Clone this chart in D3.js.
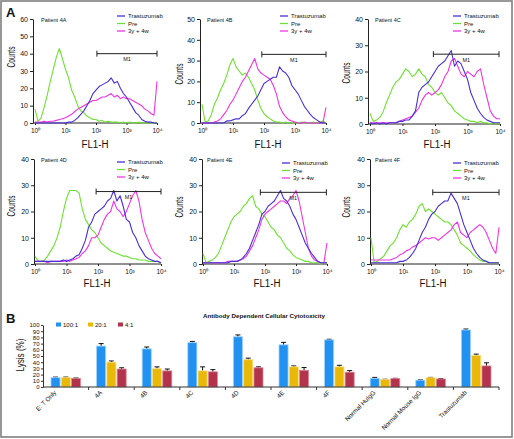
<!DOCTYPE html>
<html><head><meta charset="utf-8">
<script src="https://cdn.jsdelivr.net/npm/d3@7/dist/d3.min.js"></script>
<style>
body{margin:0;background:#fff}
svg{display:block}
text{font-family:"Liberation Sans",Arial,sans-serif;fill:#111}
</style>
</head><body>
<svg id="c" width="514" height="439"></svg>
<script>
// ---------- DATA: flow cytometry histograms (x = log10 FL1-H channel) ----------
const logChannels = [0,0.1,0.2,0.3,0.4,0.5,0.6,0.7,0.8,0.9,1.0,1.1,1.2,1.3,1.4,1.5,1.6,1.7,1.8,1.9,2.0,2.1,2.2,2.3,2.4,2.5,2.6,2.7,2.8,2.9,3.0,3.1,3.2,3.3,3.4,3.5,3.6,3.7,3.8,3.9,4.0];
const decadeLabels = ["10\u2070","10\u00B9","10\u00B2","10\u00B3","10\u2074"];
const seriesNames = ["Trastuzumab","Pre","3y + 4w"];
const panelNames = ["Patient 4A","Patient 4B","Patient 4C","Patient 4D","Patient 4E","Patient 4F"];
const panelYMax = [60,50,40,40,40,40];

const tras4A = [0,0,0,0,0,0,0,0,0,0, 0,0.5,0.5,1.5,3,5,7,10,13,17, 19,21,22,23,24,26,23,24,20,17, 15,12,9,6,4.5,2,1,0.5,0.5,0,0];
const pre4A  = [8,1,3,9,16,24,31,38,43,37, 31,26,19,15,10,7,6,4,3,2, 2,1,1.5,0.5,1,0.5,0.5,0.5,0,0.5, 0,0.5,0,0,0.5,0,0,0,0,0,0];
const post4A = [0.5,0.5,0.5,1,0.5,1,1,1.5,2,2.5, 3,4,5,6.5,8,9,10,11,12,13, 13,14,15,15,16,17,15,16,14,15, 14,14,13,12,11,10,8,7,5.5,4.5,24];

const tras4B = [0,0,0,0,0,0,0,0,1,1, 1.5,2,2,3.5,4.5,7,9,11,13,16, 19,20,21,22,22,27,25,24,22,18, 16,14,11,8,6,4,2.5,1.5,0.5,0,0];
const pre4B  = [9,0.5,1,4,9,12,16,19,23,28, 31,27,25,23,24,22,19,16,11,7, 4.5,3,2,1,0.5,0.5,0,0.5,0,0, 0,0,0.5,0,0,0,0.5,0,0.5,1,0];
const post4B = [0,0,0,0,0.5,1,2,4,6,9, 11,14,17,20,22,25,28,31,26,24, 23,22,21,18,14,8,5,3,1.5,1, 0.5,0,0,0.5,0,0,0,0,0,0,7.5];

const tras4C = [0.5,0,0.5,0,0.5,0,0.5,0.5,0.5,1, 1,1.5,1.5,3,5,12,14,15,16,18, 20,22,23,24,26,28,22,24,23,20, 17,12,9,6,4,2.5,1.5,1,0.5,0.5,0.5];
const pre4C  = [4,1,1.5,2.5,4.5,8,11,14,16,17, 19,21,20,18,19,21,19,18,15,14, 12,11,12,10,8,7,5,4,3,2, 1.5,1,1,0.5,1,0.5,0.5,0,0.5,0,0.5];
const post4C = [0.5,0.5,0.5,0.5,0.5,0.5,0.5,0.5,0.5,1, 1.5,2,2.5,3,4.5,6,9,11,12,11, 12,13,15,18,20,24,25,22,19,18, 20,19,18,20,21,15,10,5,3,2,2];

const tras4D = [1,1,1,1,1,1,1,1,1,1.5, 1,1.5,2,3,3.5,6,9,14,16,19, 20,21,22,24,25,28,24,26,22,17, 16,12,10,7,5,3,2,1.5,1,1,0.5];
const pre4D  = [3,1,1,1.5,3,5,7,10,14,20, 25,28,28,28,27,21,17,15,13,12, 10,8,7,6,5,4.5,4,3.5,3,3, 2.5,2,2,1.5,1.5,1.5,1,1,1,1,0.5];
const post4D = [1,1,1,1,0.5,1,1,1,1,1, 1.5,1,1.5,2,2.5,4,5,7,10,10, 11,14,17,19,20,24,21,20,18,20, 23,26,28,24,17,12,9,6,4,3,2];

const tras4E = [0.5,0.5,0.5,0.5,0.5,0.5,0.5,0.5,0.5,1, 1,1,1.5,2.5,4,6,9,12,15,19, 20,22,23,24,26,28,25,24,22,19, 17,14,11,8,6,4,2.5,1,0.5,0.5,0.5];
const pre4E  = [4,0.5,1,1.5,2.5,4,7,10,13,16, 18,19,20,22,23,25,26,22,21,19, 18,16,14,13,11,10,8,6,5,3.5, 2.5,2,1.5,1,1,0.5,0.5,0.5,0,0.5,0.5];
const post4E = [0.5,0.5,0.5,0.5,0.5,0.5,0.5,0.5,1,1, 1,1,1.5,2,3,5,7,10,13,17, 19,20,21,22,23,24,24,23,25,26, 28,24,18,12,6,3,1.5,1,0.5,0.5,8];

const tras4F = [0.5,0.5,0.5,0.5,0.5,0.5,0.5,0.5,0.5,1, 1,1.5,2.5,4,6,9,12,14,17,19, 20,22,23,24,24,27,25,23,19,15, 12,9,6,4,2.5,1.5,1,0.5,0.5,0.5,0.5];
const pre4F  = [10,0.5,1,2,3,5,7,8,10,13, 15,14,16,17,19,22,23,20,21,20, 19,18,17,16,16,15,13,11,8,7, 6,5,3.5,2.5,1.5,1,1,0.5,0.5,0.5,0.5];
const post4F = [1.5,1.5,1.5,1.5,1.5,1.5,1.5,2,2.5,3.5, 4,5,5.5,6.5,7,8,9,10,9.5,10, 10,9,10,11,12,13,15,16,12,11, 10,12,13,14,15,14,12,9,6,4,14];

// M1 gate: [start decade, end decade, counts level]
const m1Gates = [[2.03,4.0,40],[1.93,4.0,33],[1.95,3.97,26.6],[1.94,4.0,27.6],[1.85,3.98,27.3],[1.93,4.0,27.3]];

// ---------- DATA: ADCC bar chart ----------
const categories = ["E: T Only","4A","4B","4C","4D","4E","4F","Normal HuIgG","Normal Mouse IgG","Trastuzumab"];
const ratioNames = ["100:1","20:1","4:1"];
const lysis100 = [15,66,61.5,71.5,81,68,76,14,11,92];
const lysis20  = [15,40,29.5,26,44,32.5,32.5,12,15,51];
const lysis4   = [14,29,26,24.5,31,27,24,13.5,13,34];
const err100 = [1,4,3,2,3,4,1,1.5,0.5,1.5];
const err20  = [1,2,3,6.5,2.5,1.5,2.5,0.5,0.5,2];
const err4   = [0.5,2,3,3.5,1.5,4.5,2.5,0.5,0.5,5];
const lysisTicks = [0,10,20,30,40,50,60,70,80,90,100];

// ---------- STYLE / LAYOUT ----------
const histColors = {tras:"#4a2fd6", pre:"#6ee232", post:"#f035e6"};
const barColors = ["#2192f2","#e9b808","#b3334d"];
const barEdge = ["#9fd2ff","#f7de80","#e0899a"];

const svg = d3.select("#c");
svg.append("rect").attr("x",1).attr("y",1).attr("width",511).attr("height",436)
  .attr("fill","#fff").attr("stroke","#777").attr("stroke-width",1.5);

svg.append("text").attr("x",6).attr("y",17).attr("font-size",13).attr("font-weight","bold").text("A");
svg.append("text").attr("x",6).attr("y",323).attr("font-size",13).attr("font-weight","bold").text("B");

const panelData = [
  [tras4A,pre4A,post4A],[tras4B,pre4B,post4B],[tras4C,pre4C,post4C],
  [tras4D,pre4D,post4D],[tras4E,pre4E,post4E],[tras4F,pre4F,post4F]
];
const layout = [
  {ax:33, xr:[35,157], yr:[123,19], leg:[117,18], pat:[41,22], cnt:[11,57], fl:[95,148]},
  {ax:200,xr:[202,326],yr:[123,19], leg:[280,18], pat:[207,22], cnt:[179,74], fl:[268,148]},
  {ax:368,xr:[370,500],yr:[124,19], leg:[453,18], pat:[375,22], cnt:[346,73], fl:[437,148]},
  {ax:34, xr:[35,161], yr:[264,159],leg:[117,164],pat:[41,162], cnt:[11,206], fl:[97,287]},
  {ax:202,xr:[203,327],yr:[264,159],leg:[282,165],pat:[207,162],cnt:[179,207],fl:[267,287]},
  {ax:370,xr:[371,499],yr:[264,159],leg:[453,165],pat:[375,162],cnt:[346,207],fl:[433,287]}
];
const colorOrder = [histColors.tras, histColors.pre, histColors.post];

panelData.forEach((series,pi)=>{
  const L = layout[pi];
  const g = svg.append("g");
  const x = d3.scaleLinear().domain([0,4]).range(L.xr);
  const y = d3.scaleLinear().domain([0,panelYMax[pi]]).range(L.yr);

  // y axis
  const ya = g.append("g").attr("transform",`translate(${L.ax},0)`)
    .call(d3.axisLeft(y).tickValues(d3.range(0,panelYMax[pi]+1,10)).tickSize(3).tickPadding(2).tickSizeOuter(0));
  ya.select(".domain").attr("stroke","#222");
  ya.selectAll(".tick line").attr("stroke","#222");
  ya.selectAll(".tick text").attr("font-size",7).attr("font-family","Liberation Sans, Arial");
  // x axis
  const xa = g.append("g").attr("transform",`translate(0,${L.yr[0]})`)
    .call(d3.axisBottom(x).tickValues([0,1,2,3,4]).tickFormat((d,i)=>decadeLabels[i]).tickSize(2).tickPadding(3).tickSizeOuter(0));
  xa.select(".domain").attr("d",`M${L.ax},0H${L.xr[1]}`).attr("stroke","#222");
  xa.selectAll(".tick line").attr("stroke","#222");
  xa.selectAll(".tick text").attr("font-size",6.5).attr("font-family","Liberation Sans, Arial");

  // curves: Pre, 3y+4w, Trastuzumab
  const line = d3.line().x((d,i)=>x(logChannels[i])).y(d=>y(d));
  [1,2,0].forEach(si=>{
    g.append("path").datum(series[si]).attr("d",line).attr("fill","none")
      .attr("stroke",colorOrder[si]).attr("stroke-width",1.1).attr("stroke-linejoin","round");
  });

  // M1 gate
  const m = m1Gates[pi];
  const gy = y(m[2]);
  g.append("path").attr("d",`M${x(m[0])},${gy-3}V${gy+3}M${x(m[0])},${gy}H${x(m[1])}M${x(m[1])},${gy-3}V${gy+3}`)
    .attr("stroke","#222").attr("stroke-width",1).attr("fill","none");
  g.append("text").attr("x",(x(m[0])+x(m[1]))/2).attr("y",gy+7.5).attr("text-anchor","middle")
    .attr("font-size",5.5).text("M1");

  // legend
  seriesNames.forEach((nm,si)=>{
    const ly = L.leg[1] + si*7.5;
    g.append("line").attr("x1",L.leg[0]).attr("x2",L.leg[0]+8).attr("y1",ly-2).attr("y2",ly-2)
      .attr("stroke",colorOrder[si]).attr("stroke-width",1.3);
    g.append("text").attr("x",L.leg[0]+11).attr("y",ly).attr("font-size",6).attr("fill","#333").text(nm);
  });
  g.append("text").attr("x",L.pat[0]).attr("y",L.pat[1]).attr("font-size",5.5).attr("fill","#333").text(panelNames[pi]);

  g.append("text").attr("transform",`translate(${L.cnt[0]+4},${L.cnt[1]}) rotate(-90)`)
    .attr("text-anchor","middle").attr("font-size",10).attr("textLength",21).attr("lengthAdjust","spacingAndGlyphs").text("Counts");
  g.append("text").attr("x",L.fl[0]).attr("y",L.fl[1]).attr("text-anchor","middle")
    .attr("font-size",10).attr("textLength",27).attr("lengthAdjust","spacingAndGlyphs").text("FL1-H");
});

// ---------- Panel B: bar chart ----------
const gb = svg.append("g");
const yb = d3.scaleLinear().domain([0,100]).range([387,325]);
const x0 = d3.scaleBand().domain(categories).range([43,499]).paddingInner(0.32).paddingOuter(0.16);
const x1 = d3.scaleBand().domain(ratioNames).range([0,x0.bandwidth()]).padding(0.02);
const values = [lysis100,lysis20,lysis4];
const errs = [err100,err20,err4];

gb.append("text").attr("x",264).attr("y",318).attr("text-anchor","middle").attr("font-size",6.2)
  .attr("font-weight","bold").text("Antibody Dependent Cellular Cytotoxicity");

const yax = gb.append("g").attr("transform","translate(43,0)")
  .call(d3.axisLeft(yb).tickValues(lysisTicks).tickSize(2).tickPadding(1.5).tickSizeOuter(0));
yax.select(".domain").attr("stroke","#333");
yax.selectAll(".tick line").attr("stroke","#333");
yax.selectAll(".tick text").attr("font-size",6).attr("font-family","Liberation Sans, Arial");

gb.append("text").attr("transform","translate(24,355) rotate(-90)").attr("text-anchor","middle")
  .attr("font-size",11).attr("textLength",33).attr("lengthAdjust","spacingAndGlyphs").text("Lysis (%)");

categories.forEach((c,ci)=>{
  ratioNames.forEach((r,ri)=>{
    const bx = x0(c)+x1(r), bw = x1.bandwidth();
    const v = values[ri][ci], e = errs[ri][ci];
    // error bar
    gb.append("path").attr("d",`M${bx+bw/2},${yb(v)}V${yb(v+e)}M${bx+bw/2-2.5},${yb(v+e)}H${bx+bw/2+2.5}`)
      .attr("stroke","#111").attr("stroke-width",1).attr("fill","none");
    gb.append("rect").attr("x",bx+0.5).attr("y",yb(v)).attr("width",bw-1).attr("height",yb(0)-yb(v))
      .attr("fill",barColors[ri]).attr("stroke",barEdge[ri]).attr("stroke-width",0.8);
  });
});
// x axis line + boundary ticks
gb.append("line").attr("x1",43).attr("x2",499).attr("y1",387).attr("y2",387).attr("stroke","#333");
categories.forEach(c=>{
  const bx = x0(c)+x0.bandwidth()+x0.step()*x0.paddingInner()/2;
  gb.append("line").attr("x1",bx).attr("x2",bx).attr("y1",387).attr("y2",390).attr("stroke","#333");
  const cx = x0(c)+x0.bandwidth()/2;
  gb.append("text").attr("transform",`translate(${cx-9},393) rotate(-45)`).attr("text-anchor","end")
    .attr("font-size",6.3).attr("fill","#333").text(c);
});
// legend
ratioNames.forEach((r,ri)=>{
  const lx = [56,88,118][ri];
  gb.append("rect").attr("x",lx).attr("y",322.5).attr("width",5).attr("height",4).attr("fill",barColors[ri]);
  gb.append("text").attr("x",lx+7).attr("y",326.5).attr("font-size",6).attr("fill","#333").text(r);
});
</script>
</body></html>
